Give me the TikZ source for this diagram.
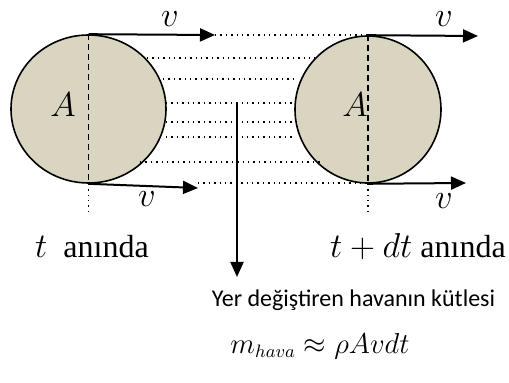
\documentclass[tikz,border=0pt]{standalone}
\usepackage{fontspec}
\setmainfont{Liberation Serif}
\newfontfamily\calibrisans{Carlito}
\usetikzlibrary{shapes.geometric,arrows.meta}
\definecolor{diskfill}{RGB}{217,213,192}
\begin{document}
\begin{tikzpicture}[
  x=0.5pt, y=-0.5pt,
  every node/.style={font=\fontsize{16}{19}\selectfont},
  disk/.style={ellipse, draw, line width=0.8pt, fill=diskfill, inner sep=0pt},
  flow/.style={-{Triangle[length=7.5pt,width=6.5pt]}, line width=1pt},
  airline/.style={dotted, line width=0.7pt},
  axis/.style={dashed, dash pattern=on 3pt off 2pt, line width=0.8pt},
  speed/.style={inner sep=0.5pt},
]
\useasboundingbox (0,0) rectangle (509,383);

% Row 1: the two disks
\node[disk, minimum width=77.5pt, minimum height=74pt] (leftdisk) at (88.5,109) {};
\node[disk, minimum width=73pt, minimum height=73.5pt] (rightdisk) at (368,109.5) {};
\draw[axis] (leftdisk.north) -- (leftdisk.south);
\draw[axis] (rightdisk.north) -- (rightdisk.south);
\node (leftA) at (63,105) {$A$};
\node (rightA) at (355,105) {$A$};

% Air between the disks
\foreach \yy/\xa/\xb in {35/215/368, 58/147/315, 79/163/293, 103/166/295,
                         122/166/295, 137/166/295, 162/140/323, 183/198/368}
  \draw[airline] (\xa,\yy) -- (\xb,\yy);
\draw[airline] (leftdisk.south) -- ++(0,32);
\draw[airline] (rightdisk.south) -- ++(0,28);

% Velocity arrows
\coordinate (lefttop) at (215,35);
\coordinate (leftbot) at (198,188);
\coordinate (righttop) at (478,36);
\coordinate (rightbot) at (466,183);
\draw[flow] (leftdisk.north) -- (lefttop);
\draw[flow] (leftdisk.south) -- (leftbot);
\draw[flow] (rightdisk.north) -- (righttop);
\draw[flow] (rightdisk.south) -- (rightbot);
\node[speed] (v1) at (170,19) {$v$};
\node[speed] (v2) at (147,199) {$v$};
\node[speed] (v3) at (444,19) {$v$};
\node[speed] (v4) at (444,201) {$v$};

% Row 2: time labels
\node (tleft) at (92,247) {$t$~~anında};
\node (tright) at (418,247) {$t+dt$ anında};

% Row 3: displaced air
\coordinate (hub) at (237,103);
\coordinate (drop) at (237,277);
\draw[flow] (hub) -- (drop);
\node[font=\calibrisans\fontsize{12}{14}\selectfont] (yer) at (353.5,300) {Yer değiştiren havanın kütlesi};
\node[font=\fontsize{13.5}{16}\selectfont] (mass) at (320,346) {$m_{hava}\approx\rho A v d t$};

\end{tikzpicture}
\end{document}
